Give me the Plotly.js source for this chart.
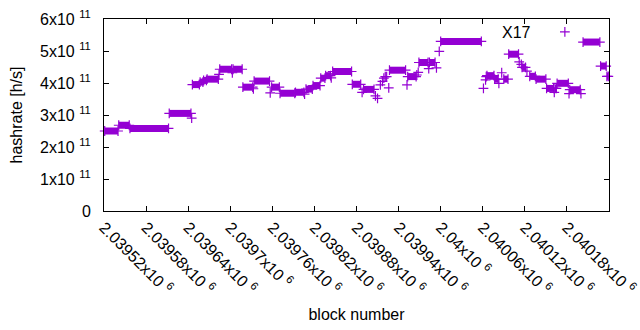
<!DOCTYPE html>
<html>
<head>
<meta charset="utf-8">
<script src="https://cdn.plot.ly/plotly-3.0.1.min.js"></script>
<style>html,body{margin:0;padding:0;background:#fff;}#chart{width:640px;height:330px;}</style>
</head>
<body>
<div id="chart"></div>
<script>
// Runs of blocks sharing the same hashrate (start block, end block, hashrate h/s)
const runStart = [2039521,2039541,2039557,2039613,2039646,2039657,2039662,2039667,2039685,2039704,2039718,2039734,2039759,2039771,2039793,2039808,2039818,2039829,2039836,2039846,2039874,2039890,2039927,2039953,2039969,2039984,2040000,2040066,2040077,2040090,2040097,2040116,2040127,2040136,2040151,2040163,2040166,2040184,2040203,2040228,2040237];
const runEnd   = [2039540,2039556,2039612,2039644,2039656,2039661,2039666,2039683,2039702,2039717,2039732,2039756,2039770,2039792,2039805,2039817,2039828,2039835,2039843,2039873,2039886,2039905,2039950,2039965,2039982,2039992,2040058,2040076,2040082,2040096,2040111,2040121,2040135,2040150,2040161,2040165,2040182,2040199,2040227,2040236,2040239];
const runValue = [2.50e11,2.68e11,2.58e11,3.05e11,3.95e11,4.03e11,4.08e11,4.12e11,4.43e11,4.43e11,3.87e11,4.06e11,3.87e11,3.68e11,3.71e11,3.81e11,3.92e11,4.15e11,4.23e11,4.36e11,3.96e11,3.80e11,4.40e11,4.20e11,4.64e11,4.64e11,5.30e11,4.23e11,4.12e11,4.12e11,4.90e11,4.49e11,4.21e11,4.12e11,3.83e11,3.83e11,3.99e11,3.79e11,5.28e11,4.53e11,4.21e11];

// Single blocks
const pointBlock = [2039645,2039684,2039703,2039733,2039757,2039806,2039844,2039888,2039907,2039910,2039914,2039917,2039919,2039921,2039923,2039926,2039952,2039966,2039968,2039983,2039994,2039998,2040061,2040064,2040065,2040083,2040087,2040112,2040115,2040123,2040162,2040183,2040200];
const pointValue = [2.90e11,4.27e11,4.32e11,3.82e11,3.69e11,3.65e11,4.16e11,3.71e11,3.60e11,3.52e11,3.94e11,4.05e11,4.15e11,4.20e11,4.20e11,3.85e11,3.94e11,4.25e11,4.33e11,4.45e11,4.47e11,4.99e11,3.83e11,4.10e11,4.20e11,3.99e11,4.32e11,4.66e11,4.58e11,4.37e11,3.71e11,3.67e11,3.67e11];

// Axis ticks
const xTickVals = [2039520,2039580,2039640,2039700,2039760,2039820,2039880,2039940,2040000,2040060,2040120,2040180,2040240];
const xTickText = ['2.03952','2.03958','2.03964','2.0397','2.03976','2.03982','2.03988','2.03994','2.04','2.04006','2.04012','2.04018','2.04024'];
const yTickVals = [0,1e11,2e11,3e11,4e11,5e11,6e11];
const yTickText = ['0','1','2','3','4','5','6'];
const seriesName = 'X17';

const COLOR = '#9400D3';
const FONT = 'Liberation Sans, Arial, sans-serif';
const FS = 16;

const rx = [], ry = [];
for (let i = 0; i < runStart.length; i++) {
  rx.push(runStart[i], runEnd[i], null);
  ry.push(runValue[i], runValue[i], null);
}

const marker = {symbol: 'cross-thin', size: 7, color: COLOR, line: {color: COLOR, width: 1.2}};

const traces = [
  {x: rx, y: ry, type: 'scatter', mode: 'lines+markers', line: {color: COLOR, width: 7},
   marker: marker, cliponaxis: false, showlegend: false, connectgaps: false},
  {x: pointBlock, y: pointValue, type: 'scatter', mode: 'markers', marker: marker,
   cliponaxis: false, name: '', showlegend: true}
];

const layout = {
  width: 640, height: 330,
  margin: {l: 104, r: 31, t: 19, b: 119},
  paper_bgcolor: '#fff', plot_bgcolor: '#fff',
  font: {family: FONT, size: FS, color: '#000'},
  showlegend: true,
  legend: {x: 0.873, y: 1.021, xanchor: 'left', yanchor: 'top', bgcolor: 'rgba(0,0,0,0)',
           font: {family: FONT, size: FS}, itemwidth: 30, tracegroupgap: 0},
  annotations: [{text: seriesName, xref: 'paper', yref: 'paper', x: 0.8495, y: 0.932,
                 xanchor: 'right', yanchor: 'middle', showarrow: false,
                 font: {family: FONT, size: FS, color: '#000'}}],
  xaxis: {
    range: [2039520, 2040240], tickmode: 'array', tickvals: xTickVals,
    ticktext: xTickText.map(t => t + 'x10 <sup>6</sup>'),
    tickangle: 45, ticks: 'inside', ticklen: 5, tickcolor: '#000',
    showline: true, linecolor: '#000', linewidth: 1, mirror: 'ticks',
    showgrid: false, zeroline: false,
    tickfont: {family: FONT, size: FS, color: '#000'},
    title: {text: 'block number', font: {family: FONT, size: FS, color: '#000'}, standoff: 12}
  },
  yaxis: {
    range: [0, 6e11], tickmode: 'array', tickvals: yTickVals,
    ticktext: yTickText.map((t, i) => i === 0 ? t : t + 'x10 <sup>11</sup>'),
    ticks: 'inside', ticklen: 5, tickcolor: '#000',
    showline: true, linecolor: '#000', linewidth: 1, mirror: 'ticks',
    showgrid: false, zeroline: false, ticklabelstandoff: 9,
    tickfont: {family: FONT, size: FS, color: '#000'},
    title: {text: 'hashrate [h/s]', font: {family: FONT, size: FS, color: '#000'}, standoff: 13}
  }
};

Plotly.newPlot('chart', traces, layout, {displayModeBar: false, staticPlot: true});
</script>
</body>
</html>
